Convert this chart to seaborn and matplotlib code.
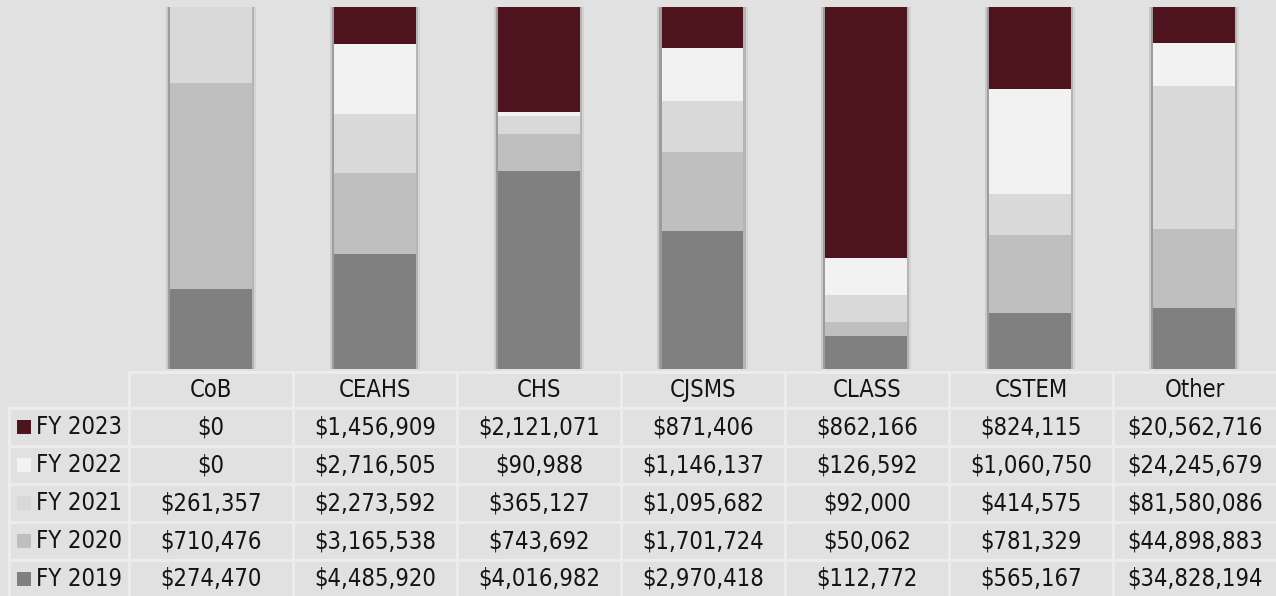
import numpy as np
import pandas as pd
import matplotlib
matplotlib.use("Agg")
import matplotlib.pyplot as plt
import matplotlib.patheffects as pe
import seaborn as sns

# Datos
colegios = ["CoB", "CEAHS", "CHS", "CJSMS", "CLASS", "CSTEM", "Other"]
anios = ["FY 2023", "FY 2022", "FY 2021", "FY 2020", "FY 2019"]
fy2023 = [0, 1456909, 2121071, 871406, 862166, 824115, 20562716]
fy2022 = [0, 2716505, 90988, 1146137, 126592, 1060750, 24245679]
fy2021 = [261357, 2273592, 365127, 1095682, 92000, 414575, 81580086]
fy2020 = [710476, 3165538, 743692, 1701724, 50062, 781329, 44898883]
fy2019 = [274470, 4485920, 4016982, 2970418, 112772, 565167, 34828194]
colores = ["#4d141e", "#f2f2f2", "#d9d9d9", "#bfbfbf", "#808080"]

valores = {"FY 2023": fy2023, "FY 2022": fy2022, "FY 2021": fy2021,
           "FY 2020": fy2020, "FY 2019": fy2019}

FONDO = "#e1e1e1"
LINEA = "#ececec"
W, H = 1276, 596

df = pd.DataFrame(valores, index=colegios)
total = df.sum(axis=1)
# acumulado desde abajo (FY 2019) hacia arriba (FY 2023)
acum = df[anios[::-1]].cumsum(axis=1).div(total, axis=0)

sns.set_theme(style="white")
plt.rcParams["font.family"] = ["DejaVu Sans"]
plt.rcParams["font.stretch"] = "condensed"

fig = plt.figure(figsize=(W / 100, H / 100), dpi=100, facecolor=FONDO)

# --- Barras apiladas 100% ---
ax = fig.add_axes([129 / W, (H - 369) / H, 1147 / W, 362 / H])
ax.set_facecolor(FONDO)
for anio, color in zip(anios, colores):
    sns.barplot(x=colegios, y=acum[anio].values, order=colegios, color=color,
                saturation=1, width=0.5, linewidth=0, ax=ax)
for p in ax.patches:
    p.set_path_effects([
        pe.SimplePatchShadow(offset=(-3, 0), shadow_rgbFace="#cacaca", alpha=1),
        pe.SimplePatchShadow(offset=(-1.5, 0), shadow_rgbFace="#9c9c9c", alpha=1),
        pe.SimplePatchShadow(offset=(3, 0), shadow_rgbFace="#d4d4d4", alpha=1),
        pe.SimplePatchShadow(offset=(1.5, 0), shadow_rgbFace="#b4b4b4", alpha=1),
        pe.Normal(),
    ])
ax.set_xlim(-0.5, 6.5)
ax.set_ylim(0, 1)
ax.axis("off")

# --- Tabla de datos ---
tx = fig.add_axes([0, 0, 1, 1])
tx.set_xlim(0, W)
tx.set_ylim(H, 0)
tx.axis("off")
tx.patch.set_alpha(0)

col_x = [129 + 164 * i for i in range(8)]
fila_y = [372, 408, 446, 484, 522, 560, 597]
fs = 17

# lineas de la cuadricula
for x in col_x:
    tx.plot([x, x], [fila_y[0], H], color=LINEA, lw=2.2)
tx.plot([9, 9], [fila_y[1], H], color=LINEA, lw=2.2)
tx.plot([col_x[0], W], [fila_y[0], fila_y[0]], color=LINEA, lw=2.2)
for y in fila_y[1:-1]:
    tx.plot([9, W], [y, y], color=LINEA, lw=2.2)

for i, c in enumerate(colegios):
    cx = (col_x[i] + col_x[i + 1]) / 2
    tx.text(cx, (fila_y[0] + fila_y[1]) / 2, c, ha="center", va="center",
            fontsize=fs, color="#141414")

for j, (anio, color) in enumerate(zip(anios, colores)):
    cy = (fila_y[j + 1] + fila_y[j + 2]) / 2
    tx.add_patch(plt.Rectangle((17, cy - 7), 14, 14, color=color, lw=0))
    tx.text(36, cy, anio, ha="left", va="center", fontsize=fs, color="#141414")
    for i, v in enumerate(valores[anio]):
        cx = (col_x[i] + col_x[i + 1]) / 2
        tx.text(cx, cy, f"${v:,}", ha="center", va="center",
                fontsize=fs, color="#141414")

fig.savefig("out.png", dpi=100, facecolor=FONDO)
